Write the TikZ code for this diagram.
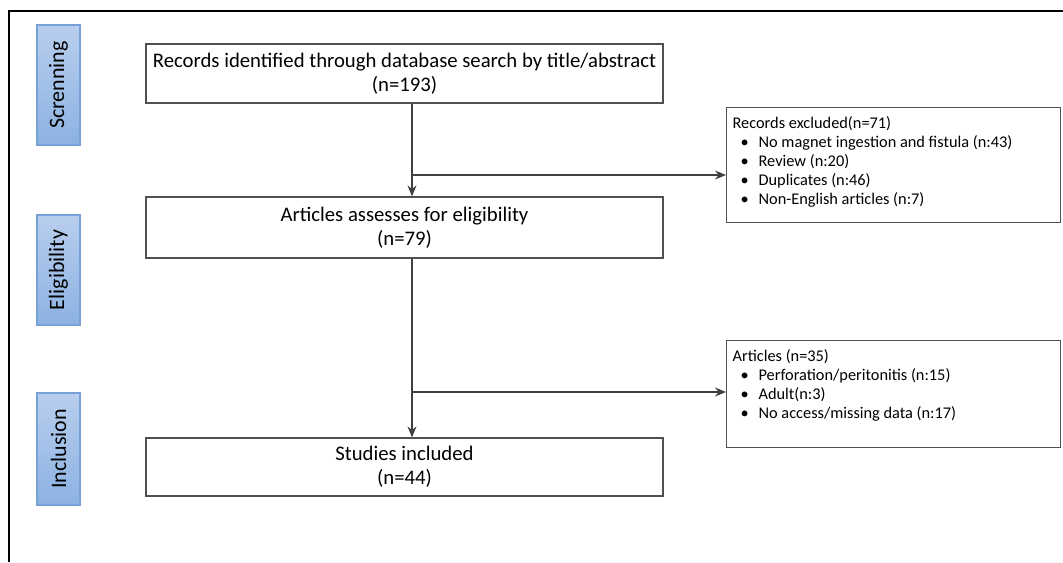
\documentclass[tikz,border=0pt]{standalone}
\usepackage{fontspec}
\setmainfont{Carlito}
\usepackage{graphicx}
\usetikzlibrary{arrows.meta,positioning}

\definecolor{stagetop}{RGB}{184,206,238}
\definecolor{stagebot}{RGB}{140,178,226}
\definecolor{stageline}{RGB}{120,162,214}
\definecolor{boxline}{RGB}{80,80,80}

% bullet line inside the exclusion boxes
\newcommand{\itm}[1]{\par\hspace*{0.16cm}\makebox[0.36cm][l]{\textbullet}#1}

\begin{document}
\begin{tikzpicture}[
    x=0.02cm, y=-0.02cm,
    >={Stealth[length=2.2mm,width=1.8mm]},
    stage/.style={draw=stageline,line width=0.6pt,top color=stagetop,bottom color=stagebot,
                  minimum width=0.86cm,inner sep=0pt,font=\fontsize{12.5}{14}\selectfont},
    mainbox/.style={draw=boxline,line width=0.7pt,minimum width=10.34cm,align=center,
                    inner sep=0pt,font=\fontsize{11.8}{13.4}\selectfont},
    sidebox/.style={draw=boxline,line width=0.7pt,anchor=north west,inner xsep=0.12cm,
                    inner ysep=0.1cm,font=\fontsize{9.3}{10.9}\selectfont},
    flow/.style={->,line width=0.7pt,draw=black!75,fill=black!85},
]
\useasboundingbox (0,0) rectangle (1063,562);

% ---- frame ----
\draw[line width=0.8pt] (1063,11) -- (9,11) -- (9,562);

% ---- stage labels (left column) ----
\node[stage,minimum height=2.40cm] (scr) at (58.5,85)  {\rotatebox{90}{Screnning}};
\node[stage,minimum height=2.20cm] (eli) at (58.5,270) {\rotatebox{90}{Eligibility}};
\node[stage,minimum height=2.24cm] (inc) at (58.5,449) {\rotatebox{90}{Inclusion}};

% ---- main flow boxes ----
\node[mainbox,minimum height=1.18cm] (rec)  at (404.5,73.5)
     {Records identified through database search by title/abstract\\(n=193)};
\node[mainbox,minimum height=1.22cm] (elig) at (404.5,227.5)
     {Articles assesses for eligibility\\(n=79)};
\node[mainbox,minimum height=1.16cm] (incl) at (404.5,467)
     {Studies included\\(n=44)};

% ---- exclusion boxes ----
\node[sidebox] (excl) at (726,107) {\parbox[c][2.1cm][t]{6.44cm}{\vspace*{2pt}%
     Records excluded(n=71)
     \itm{No magnet ingestion and fistula (n:43)}
     \itm{Review (n:20)}
     \itm{Duplicates (n:46)}
     \itm{Non-English articles (n:7)}}};
\node[sidebox] (art) at (726,340) {\parbox[c][1.94cm][t]{6.44cm}{\vspace*{2pt}%
     Articles (n=35)
     \itm{Perforation/peritonitis (n:15)}
     \itm{Adult(n:3)}
     \itm{No access/missing data (n:17)}}};

% ---- connectors ----
\coordinate (trunk) at (412,0);
\coordinate (b1) at (412,175);
\coordinate (b2) at (412,392);

\draw[flow] (rec.south -| trunk) -- (elig.north -| trunk);
\draw[flow] (b1) -- (b1 -| excl.west);
\draw[flow] (elig.south -| trunk) -- (incl.north -| trunk);
\draw[flow] (b2) -- (b2 -| art.west);

\end{tikzpicture}
\end{document}
